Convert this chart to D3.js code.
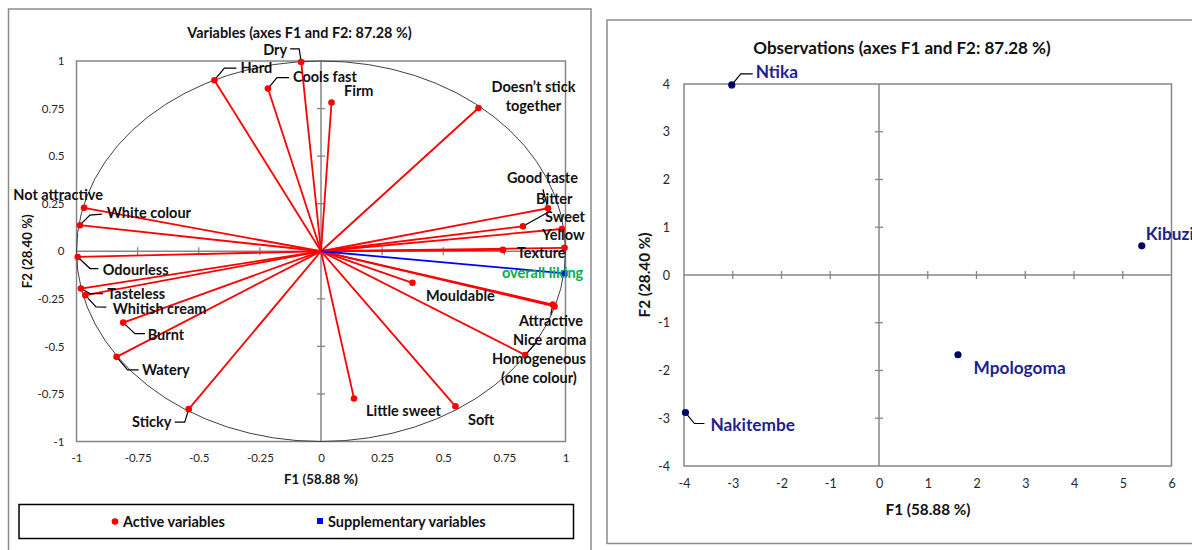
<!DOCTYPE html>
<html>
<head>
<meta charset="utf-8">
<script src="https://cdn.jsdelivr.net/npm/d3@7"></script>
<style>
  html, body { margin: 0; padding: 0; background: #fff; }
  svg { display: block; }
  text { font-family: Lato, "Open Sans", sans-serif; }
</style>
</head>
<body>
<svg id="chart" width="1192" height="550"></svg>
<script>
// ---- Correlation circle: variables (F1, F2 loadings) ----
const activeNames = [
  "Dry", "Hard", "Cools fast", "Firm", "Doesn’t stick together",
  "Good taste", "Sweet", "Bitter", "Yellow", "Texture",
  "Mouldable", "Attractive", "Nice aroma", "Homogeneous (one colour)",
  "Soft", "Little sweet", "Sticky", "Watery", "Burnt",
  "Whitish cream", "Tasteless", "Odourless", "White colour", "Not attractive"
];
const activeF1 = [
  -0.081, -0.436, -0.217, 0.043, 0.644,
  0.928, 0.826, 0.985, 0.996, 0.744,
  0.374, 0.948, 0.955, 0.835,
  0.550, 0.135, -0.541, -0.836, -0.809,
  -0.964, -0.982, -0.995, -0.986, -0.969
];
const activeF2 = [
  0.995, 0.899, 0.855, 0.782, 0.753,
  0.226, 0.131, 0.117, 0.018, 0.007,
  -0.166, -0.280, -0.290, -0.545,
  -0.815, -0.774, -0.830, -0.555, -0.375,
  -0.231, -0.196, -0.030, 0.137, 0.228
];
const supplementaryNames = ["overall liking"];
const supplementaryF1 = [0.996];
const supplementaryF2 = [-0.116];

const circleTicks = [-1, -0.75, -0.5, -0.25, 0, 0.25, 0.5, 0.75, 1];

// ---- Observations (factor scores) ----
const obsNames = ["Ntika", "Kibuzi", "Mpologoma", "Nakitembe"];
const obsF1 = [-3.02, 5.39, 1.62, -3.97];
const obsF2 = [3.98, 0.61, -1.67, -2.88];
const obsXTicks = [-4, -3, -2, -1, 0, 1, 2, 3, 4, 5, 6];
const obsYTicks = [-4, -3, -2, -1, 0, 1, 2, 3, 4];

// Label placement for the variables plot: offset of the text from the point
// (dx, dy in px), optional second line, anchor and leader-line path.
const varLabelLayout = {
  "Dry": { dx: -38, dy: -6.5, leader: [[-2, -13], [-11, -13]] },
  "Hard": { dx: 26, dy: -7, leader: [[10, -12], [22, -12]] },
  "Cools fast": { dx: 25, dy: -6.5, leader: [[9, -11], [21, -11]] },
  "Firm": { dx: 12.5, dy: -6.2 },
  "Doesn’t stick together": { lines: ["Doesn’t stick", "together"], dx: 55, dy: -15.7, anchor: "middle" },
  "Good taste": { dx: -41, dy: -25, leader: [[-5, -19]] },
  "Sweet": { dx: 22, dy: -4, leader: [[27, -15]] },
  "Bitter": { dx: -25.8, dy: -24.7 },
  "Yellow": { dx: -22.5, dy: -7.5 },
  "Texture": { dx: 14, dy: 8.3 },
  "Mouldable": { dx: 13.6, dy: 18.5 },
  "Attractive": { dx: -33.8, dy: 21.7, leader: [[-2, 10]] },
  "Nice aroma": { dx: -41.5, dy: 38.8 },
  "Homogeneous (one colour)": { lines: ["Homogeneous", "(one colour)"], dx: 13.8, dy: 9.3, anchor: "middle", leader: [[10.6, -11.7]] },
  "Soft": { dx: 12.5, dy: 19 },
  "Little sweet": { dx: 12, dy: 17.5 },
  "Sticky": { dx: -56.7, dy: 18, leader: [[-4, 13], [-14, 13]] },
  "Watery": { dx: 25.4, dy: 18.5, leader: [[11, 13], [22, 13]] },
  "Burnt": { dx: 24.5, dy: 17.7, leader: [[11.7, 11], [21.8, 11]] },
  "Whitish cream": { dx: 27.4, dy: 19, leader: [[10.7, 11.7], [21, 12]] },
  "Tasteless": { dx: 26.3, dy: 10, leader: [[9, 5], [22, 5]] },
  "Odourless": { dx: 25, dy: 18.3, leader: [[12.3, 11.6], [20.6, 11.6]] },
  "White colour": { dx: 26.8, dy: -7.2, leader: [[10, -10], [22, -11]] },
  "Not attractive": { dx: -70.8, dy: -7.6 },
  "overall liking": { dx: -62.5, dy: 5 }
};
const obsLabelLayout = {
  "Ntika": { dx: 24, dy: -6.5, leader: [[9, -11], [21, -11]] },
  "Kibuzi": { dx: 4, dy: -5.5 },
  "Mpologoma": { dx: 15.5, dy: 19.5 },
  "Nakitembe": { dx: 25, dy: 18.5, leader: [[9, 11], [19, 11]] }
};

const svg = d3.select("#chart");
const frameGray = "#868686";
const red = "#ff0000";
const labelSize = 14.5;

// ===================== Left panel: variables =====================
svg.append("rect").attr("x", 8.5).attr("y", 9).attr("width", 582.5).attr("height", 560)
  .attr("fill", "none").attr("stroke", "#8c8c8c").attr("stroke-width", 1.5);

const vx = d3.scaleLinear().domain([-1, 1]).range([76.5, 565.5]);
const vy = d3.scaleLinear().domain([-1, 1]).range([441.5, 61]);

const left = svg.append("g");

// Plot frame
left.append("rect").attr("x", vx(-1)).attr("y", vy(1))
  .attr("width", vx(1) - vx(-1)).attr("height", vy(-1) - vy(1))
  .attr("fill", "none").attr("stroke", frameGray).attr("stroke-width", 1.5);

// Tick labels via axis generators (labels only)
const vxAxis = d3.axisBottom(vx).tickValues(circleTicks).tickSize(0).tickPadding(12)
  .tickFormat(d => String(d));
const vyAxis = d3.axisLeft(vy).tickValues(circleTicks).tickSize(0).tickPadding(12)
  .tickFormat(d => String(d));
left.append("g").attr("transform", `translate(0,${vy(-1)})`).call(vxAxis)
  .call(g => g.select(".domain").remove())
  .selectAll("text").attr("font-size", 11.5).attr("fill", "#262626").attr("font-family", "Lato, sans-serif");
left.append("g").attr("transform", `translate(${vx(-1)},0)`).call(vyAxis)
  .call(g => g.select(".domain").remove())
  .selectAll("text").attr("font-size", 11.5).attr("fill", "#262626").attr("font-family", "Lato, sans-serif");

// Zero axes with cross ticks
left.append("line").attr("x1", vx(-1)).attr("x2", vx(1)).attr("y1", vy(0)).attr("y2", vy(0))
  .attr("stroke", frameGray).attr("stroke-width", 1.5);
left.append("line").attr("x1", vx(0)).attr("x2", vx(0)).attr("y1", vy(1)).attr("y2", vy(-1))
  .attr("stroke", frameGray).attr("stroke-width", 1.5);
circleTicks.filter(t => Math.abs(t) < 1 && t !== 0).forEach(t => {
  left.append("line").attr("x1", vx(t)).attr("x2", vx(t)).attr("y1", vy(0) - 4).attr("y2", vy(0) + 4)
    .attr("stroke", frameGray).attr("stroke-width", 1.3);
  left.append("line").attr("x1", vx(0) - 4).attr("x2", vx(0) + 4).attr("y1", vy(t)).attr("y2", vy(t))
    .attr("stroke", frameGray).attr("stroke-width", 1.3);
});

// Correlation circle
left.append("ellipse").attr("cx", vx(0)).attr("cy", vy(0))
  .attr("rx", vx(1) - vx(0)).attr("ry", vy(0) - vy(1))
  .attr("fill", "none").attr("stroke", "#404040").attr("stroke-width", 1);

// Vectors
const activeData = activeNames.map((n, i) => ({ name: n, f1: activeF1[i], f2: activeF2[i] }));
const suppData = supplementaryNames.map((n, i) => ({ name: n, f1: supplementaryF1[i], f2: supplementaryF2[i] }));

left.selectAll(".vec-a").data(activeData).enter().append("line")
  .attr("x1", vx(0)).attr("y1", vy(0)).attr("x2", d => vx(d.f1)).attr("y2", d => vy(d.f2))
  .attr("stroke", red).attr("stroke-width", 1.8);
left.selectAll(".vec-s").data(suppData).enter().append("line")
  .attr("x1", vx(0)).attr("y1", vy(0)).attr("x2", d => vx(d.f1)).attr("y2", d => vy(d.f2))
  .attr("stroke", "#0000ff").attr("stroke-width", 1.8);

// Leader lines
function drawLeaders(g, data, sx, sy, layout) {
  data.forEach(d => {
    const L = layout[d.name];
    if (!L || !L.leader) return;
    const px = sx(d.f1), py = sy(d.f2);
    const pts = [[px, py]].concat(L.leader.map(p => [px + p[0], py + p[1]]));
    g.append("path").attr("d", d3.line()(pts)).attr("fill", "none")
      .attr("stroke", "#000").attr("stroke-width", 1.2);
  });
}
drawLeaders(left, activeData.concat(suppData), vx, vy, varLabelLayout);

// Points
left.selectAll(".pt-a").data(activeData).enter().append("circle")
  .attr("cx", d => vx(d.f1)).attr("cy", d => vy(d.f2)).attr("r", 3.3).attr("fill", red);
left.selectAll(".pt-s").data(suppData).enter().append("rect")
  .attr("x", d => vx(d.f1) - 3).attr("y", d => vy(d.f2) - 3).attr("width", 6).attr("height", 6)
  .attr("fill", "#0000ff");

// Labels
function drawLabels(g, data, sx, sy, layout, color, size) {
  data.forEach(d => {
    const L = layout[d.name] || { dx: 5, dy: -5 };
    const px = sx(d.f1), py = sy(d.f2);
    const lines = L.lines || [d.name];
    lines.forEach((t, k) => {
      g.append("text").attr("x", px + L.dx).attr("y", py + L.dy + k * 19)
        .attr("text-anchor", L.anchor || "start")
        .attr("font-size", size).attr("font-weight", "bold").attr("fill", color)
        .text(t);
    });
  });
}
drawLabels(left, activeData, vx, vy, varLabelLayout, "#111", labelSize);
drawLabels(left, suppData, vx, vy, varLabelLayout, "#00b050", labelSize);

// Titles
left.append("text").attr("x", 299.5).attr("y", 37.5).attr("text-anchor", "middle")
  .attr("font-size", 14.4).attr("font-weight", "bold").attr("fill", "#111")
  .text("Variables (axes F1 and F2: 87.28 %)");
left.append("text").attr("x", vx(0)).attr("y", 483.5).attr("text-anchor", "middle")
  .attr("font-size", 13.3).attr("font-weight", "bold").attr("fill", "#111")
  .text("F1 (58.88 %)");
left.append("text").attr("transform", `translate(32,${vy(0)}) rotate(-90)`).attr("text-anchor", "middle")
  .attr("font-size", 13.3).attr("font-weight", "bold").attr("fill", "#111")
  .text("F2 (28.40 %)");

// Legend
const legend = left.append("g");
legend.append("rect").attr("x", 19).attr("y", 504.5).attr("width", 554.5).attr("height", 34)
  .attr("fill", "none").attr("stroke", "#000").attr("stroke-width", 1.5);
legend.append("circle").attr("cx", 115).attr("cy", 521.5).attr("r", 3.3).attr("fill", red);
legend.append("text").attr("x", 123).attr("y", 526.5).attr("font-size", labelSize).attr("font-weight", "bold")
  .attr("fill", "#111").text("Active variables");
legend.append("rect").attr("x", 317).attr("y", 518).attr("width", 6).attr("height", 6).attr("fill", "#0000ff");
legend.append("text").attr("x", 328).attr("y", 526.5).attr("font-size", labelSize).attr("font-weight", "bold")
  .attr("fill", "#111").text("Supplementary variables");

// ===================== Right panel: observations =====================
svg.append("rect").attr("x", 607).attr("y", 20).attr("width", 620).attr("height", 523.5)
  .attr("fill", "none").attr("stroke", "#8c8c8c").attr("stroke-width", 1.5);

const ox = d3.scaleLinear().domain([-4, 6]).range([684, 1171.5]);
const oy = d3.scaleLinear().domain([-4, 4]).range([466, 84]);
const right = svg.append("g");

right.append("rect").attr("x", ox(-4)).attr("y", oy(4))
  .attr("width", ox(6) - ox(-4)).attr("height", oy(-4) - oy(4))
  .attr("fill", "none").attr("stroke", frameGray).attr("stroke-width", 1.5);

const oxAxis = d3.axisBottom(ox).tickValues(obsXTicks).tickSize(0).tickPadding(13).tickFormat(d => String(d));
const oyAxis = d3.axisLeft(oy).tickValues(obsYTicks).tickSize(0).tickPadding(14).tickFormat(d => String(d));
right.append("g").attr("transform", `translate(0,${oy(-4)})`).call(oxAxis)
  .call(g => g.select(".domain").remove())
  .selectAll("text").attr("font-size", 12.5).attr("fill", "#262626").attr("font-family", "Lato, sans-serif");
right.append("g").attr("transform", `translate(${ox(-4)},0)`).call(oyAxis)
  .call(g => g.select(".domain").remove())
  .selectAll("text").attr("font-size", 12.5).attr("fill", "#262626").attr("font-family", "Lato, sans-serif");

right.append("line").attr("x1", ox(-4)).attr("x2", ox(6)).attr("y1", oy(0)).attr("y2", oy(0))
  .attr("stroke", frameGray).attr("stroke-width", 1.5);
right.append("line").attr("x1", ox(0)).attr("x2", ox(0)).attr("y1", oy(4)).attr("y2", oy(-4))
  .attr("stroke", frameGray).attr("stroke-width", 1.5);
obsXTicks.filter(t => t > -4 && t < 6 && t !== 0).forEach(t => {
  right.append("line").attr("x1", ox(t)).attr("x2", ox(t)).attr("y1", oy(0) - 4).attr("y2", oy(0) + 4)
    .attr("stroke", frameGray).attr("stroke-width", 1.3);
});
obsYTicks.filter(t => t > -4 && t < 4 && t !== 0).forEach(t => {
  right.append("line").attr("x1", ox(0) - 4).attr("x2", ox(0) + 4).attr("y1", oy(t)).attr("y2", oy(t))
    .attr("stroke", frameGray).attr("stroke-width", 1.3);
});

const obsData = obsNames.map((n, i) => ({ name: n, f1: obsF1[i], f2: obsF2[i] }));
drawLeaders(right, obsData, ox, oy, obsLabelLayout);
right.selectAll(".obs").data(obsData).enter().append("circle")
  .attr("cx", d => ox(d.f1)).attr("cy", d => oy(d.f2)).attr("r", 3.6).attr("fill", "#000066");
drawLabels(right, obsData, ox, oy, obsLabelLayout, "#1f1f8f", 17.3);

right.append("text").attr("x", 902).attr("y", 54).attr("text-anchor", "middle")
  .attr("font-size", 17).attr("font-weight", "bold").attr("fill", "#111")
  .text("Observations (axes F1 and F2: 87.28 %)");
right.append("text").attr("x", 928).attr("y", 514.5).attr("text-anchor", "middle")
  .attr("font-size", 15.3).attr("font-weight", "bold").attr("fill", "#111")
  .text("F1 (58.88 %)");
right.append("text").attr("transform", `translate(650,${oy(0)}) rotate(-90)`).attr("text-anchor", "middle")
  .attr("font-size", 15.3).attr("font-weight", "bold").attr("fill", "#111")
  .text("F2 (28.40 %)");
</script>
</body>
</html>
